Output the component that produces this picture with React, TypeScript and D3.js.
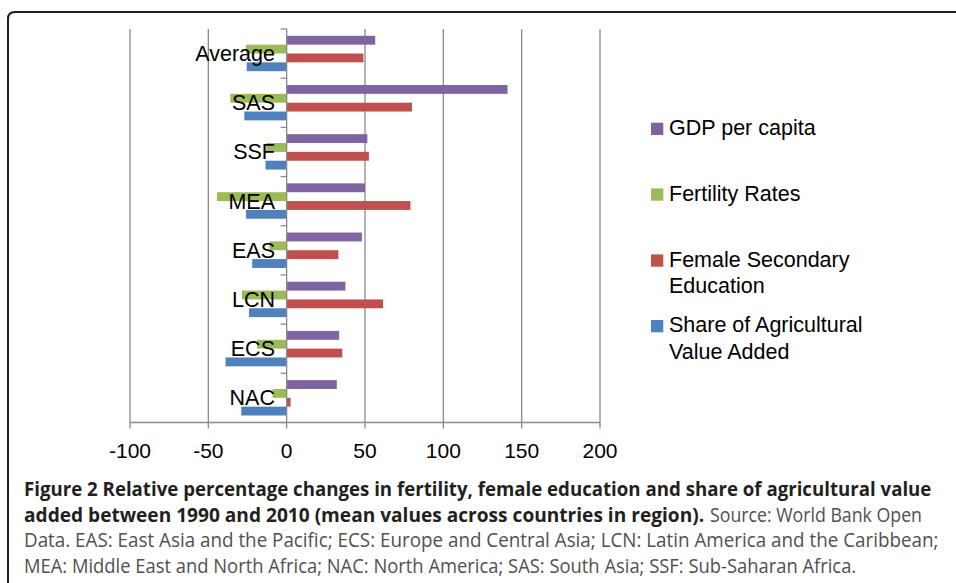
import React, { useLayoutEffect, useRef, useState } from "react";
import * as d3 from "d3";

const categories = ["Average", "SAS", "SSF", "MEA", "EAS", "LCN", "ECS", "NAC"];
const gdpPerCapita = [56.5, 141, 51.5, 50, 48, 37.5, 33.5, 32];
const fertilityRates = [-26, -36, -13, -44.5, -11, -28.5, -19, -9];
const femaleSecondaryEducation = [49, 80, 52.5, 79, 33, 61.5, 35.5, 2.5];
const shareAgriculturalValueAdded = [-25.5, -27, -13.5, -26, -22, -24, -39, -29];
const xTicks = [-100, -50, 0, 50, 100, 150, 200];

const seriesNames = ["GDP per capita", "Fertility Rates", "Female Secondary Education", "Share of Agricultural Value Added"];
const seriesColors = ["#8064A2", "#9BBB59", "#C0504D", "#4F81BD"];
const seriesData = [gdpPerCapita, fertilityRates, femaleSecondaryEducation, shareAgriculturalValueAdded];
const legendLines = [["GDP per capita"], ["Fertility Rates"], ["Female Secondary", "Education"], ["Share of Agricultural", "Value Added"]];

const captionLines = [
  { parts: [{ t: "Figure 2 Relative percentage changes in fertility, female education and share of agricultural value", b: true, x: 24, w: 907 }] },
  { parts: [
    { t: "added between 1990 and 2010 (mean values across countries in region).", b: true, x: 24, w: 680 },
    { t: "Source: World Bank Open", b: false, x: 710, w: 212 },
  ] },
  { parts: [{ t: "Data. EAS: East Asia and the Pacific; ECS: Europe and Central Asia; LCN: Latin America and the Caribbean;", b: false, x: 24, w: 914 }] },
  { parts: [{ t: "MEA: Middle East and North Africa; NAC: North America; SAS: South Asia; SSF: Sub-Saharan Africa.", b: false, x: 24, w: 832 }] },
];
const captionBaselines = [496, 521.5, 547, 572.5];

function FitText({ x, y, w, bold, children }: { x: number; y: number; w: number; bold: boolean; children: string }) {
  const ref = useRef<SVGTextElement>(null);
  const [s, setS] = useState(0.86);
  useLayoutEffect(() => {
    if (ref.current) {
      const len = ref.current.getComputedTextLength();
      if (len > 0) setS(w / len);
    }
  }, [w, children]);
  return (
    <text ref={ref} transform={`translate(${x},${y}) scale(${s},1)`} fontFamily="'Open Sans', 'Noto Sans', sans-serif"
      fontWeight={bold ? 700 : 400} fontSize={19.5} fill={bold ? "#231f20" : "#505050"}>{children}</text>
  );
}

export default function App() {
  const W = 956, H = 583;
  const x = d3.scaleLinear().domain([-100, 200]).range([130, 600]);
  const top = 29, bottom = 422.5;
  const y = d3.scaleBand().domain(categories).range([top, bottom]).padding(0);
  const inner = d3.scaleBand().domain(seriesNames).range([6.8, y.bandwidth() - 7]).padding(0);
  const font = "'Liberation Sans', Arial, Helvetica, sans-serif";
  const gridColor = "#8a8a8a";
  const legendBase = [135, 200.7, 266.7, 332.3];

  return (
    <svg width={W} height={H} style={{ position: "absolute", left: 0, top: 0, background: "#fff" }}>
      <rect x={0} y={0} width={W} height={H} fill="#fff" />
      <path d={`M8,${H + 5} L8,19 Q8,12 15,12 L${W + 5},12`} fill="none" stroke="#231f20" strokeWidth={2} />
      {xTicks.filter((t) => t !== 0).map((t) => (
        <line key={t} x1={x(t)} x2={x(t)} y1={top} y2={bottom} stroke={gridColor} strokeWidth={1.3} />
      ))}
      {categories.map((c, i) => (
        <g key={c}>
          {seriesNames.map((s, j) => {
            const v = seriesData[j][i];
            const x0 = x(Math.min(0, v));
            const x1 = x(Math.max(0, v));
            return (
              <rect key={s} x={x0} y={(y(c) as number) + (inner(s) as number)} width={x1 - x0} height={inner.bandwidth()}
                fill={seriesColors[j]} />
            );
          })}
        </g>
      ))}
      <line x1={x(0)} x2={x(0)} y1={top} y2={bottom} stroke={gridColor} strokeWidth={1.3} />
      {d3.range(categories.length + 1).map((k) => {
        const yy = top + k * y.step();
        return <line key={k} x1={x(0) - 6} x2={x(0)} y1={yy} y2={yy} stroke={gridColor} strokeWidth={1.3} />;
      })}
      <line x1={x(-100)} x2={x(200)} y1={bottom} y2={bottom} stroke={gridColor} strokeWidth={1.3} />
      {xTicks.map((t) => (
        <g key={t}>
          <line x1={x(t)} x2={x(t)} y1={bottom} y2={bottom + 6} stroke={gridColor} strokeWidth={1.3} />
          <text x={x(t)} y={458} textAnchor="middle" fontFamily={font} fontSize={21} fill="#000">{t}</text>
        </g>
      ))}
      {categories.map((c) => (
        <text key={c} x={275} y={(y(c) as number) + y.bandwidth() / 2 + 7.5} textAnchor="end" fontFamily={font} fontSize={21.5} fill="#000">{c}</text>
      ))}
      {seriesNames.map((s, j) => (
        <g key={s}>
          <rect x={651} y={legendBase[j] - 12.3} width={12.3} height={12.3} fill={seriesColors[j]} />
          {legendLines[j].map((ln, k) => (
            <text key={k} x={669} y={legendBase[j] + k * 26.7} fontFamily={font} fontSize={21.5} fill="#000">{ln}</text>
          ))}
        </g>
      ))}
      {captionLines.map((line, i) => (
        <g key={i}>
          {line.parts.map((p, k) => (
            <FitText key={k} x={p.x} y={captionBaselines[i]} w={p.w} bold={p.b}>{p.t}</FitText>
          ))}
        </g>
      ))}
    </svg>
  );
}
